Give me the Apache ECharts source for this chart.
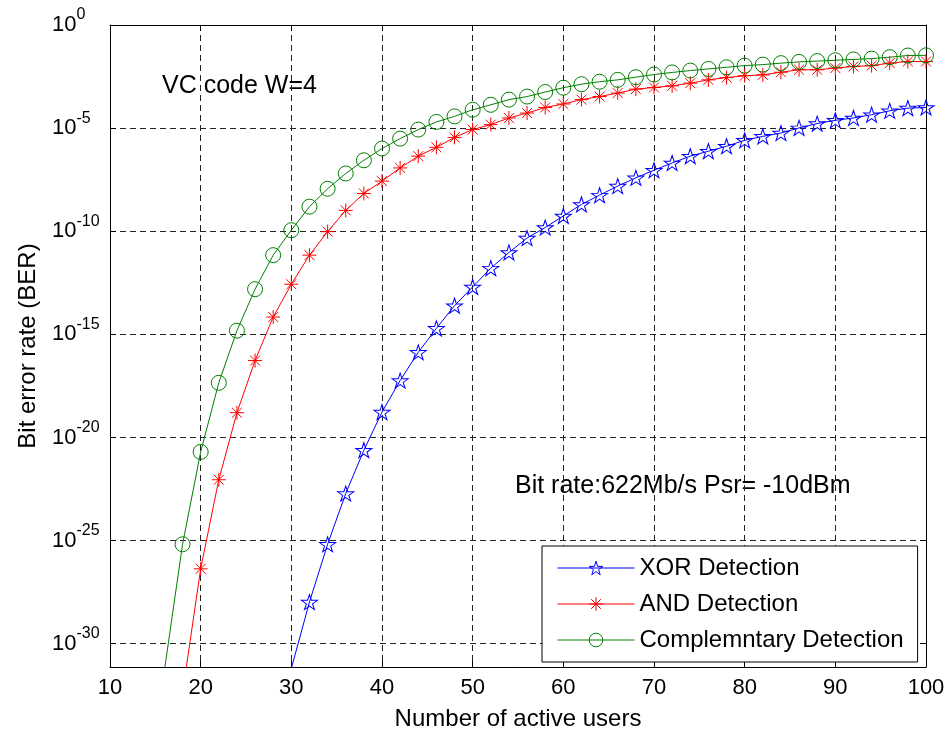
<!DOCTYPE html>
<html>
<head>
<meta charset="utf-8">
<script src="https://cdn.jsdelivr.net/npm/echarts@6/dist/echarts.min.js"></script>
<style>
html,body{margin:0;padding:0;background:#fff;}
#chart{width:949px;height:736px;}
</style>
</head>
<body>
<div id="chart"></div>
<script>
// Number of active users (x values of the markers)
const users = [16,18,20,22,24,26,28,30,32,34,36,38,40,42,44,46,48,50,52,54,56,58,60,62,64,66,68,70,72,74,76,78,80,82,84,86,88,90,92,94,96,98,100];

// BER values as exponents of ten (log10 BER); null = no point
const xorExp = [null,null,null,null,null,null,null,
  -31.2,-27.98,-25.18,-22.72,-20.62,-18.77,-17.24,-15.87,-14.71,-13.61,-12.70,-11.79,-11.03,-10.33,-9.82,-9.26,-8.70,-8.25,-7.81,-7.41,-7.04,-6.69,-6.36,-6.12,-5.88,-5.59,-5.40,-5.24,-4.99,-4.78,-4.62,-4.51,-4.35,-4.16,-4.03,-4.00];
const andExp = [null,
  -32.4,-26.37,-22.05,-18.80,-16.27,-14.16,-12.57,-11.16,-10.02,-8.99,-8.17,-7.57,-6.93,-6.36,-5.93,-5.45,-5.07,-4.83,-4.51,-4.27,-4.00,-3.83,-3.62,-3.47,-3.30,-3.11,-3.03,-2.95,-2.82,-2.66,-2.55,-2.46,-2.42,-2.29,-2.17,-2.17,-2.09,-2.01,-1.97,-1.85,-1.77,-1.77];
const compExp = [
  -31.3,-25.18,-20.70,-17.35,-14.82,-12.81,-11.16,-9.95,-8.81,-7.94,-7.20,-6.56,-5.99,-5.51,-5.07,-4.70,-4.43,-4.11,-3.87,-3.62,-3.47,-3.25,-3.04,-2.87,-2.75,-2.66,-2.53,-2.40,-2.30,-2.21,-2.13,-2.05,-1.97,-1.92,-1.85,-1.79,-1.75,-1.71,-1.67,-1.63,-1.56,-1.48,-1.47];

// Tick labels
const xTicks = [10,20,30,40,50,60,70,80,90,100];
const yTickExp = [0,-5,-10,-15,-20,-25,-30];

const seriesNames = ['XOR Detection','AND Detection','Complemntary Detection'];
const noteTexts = ['VC code W=4','Bit rate:622Mb/s Psr= -10dBm'];
const axisNames = ['Number of active users','Bit error rate (BER)'];

const FONT = "'Liberation Sans', Arial, Helvetica, sans-serif";

// decades below 1 (plotted on an inverted linear axis = log scale of BER)
function toPoints(exps) {
  const out = [];
  for (let i = 0; i < users.length; i++) {
    if (exps[i] !== null) out.push([users[i], -exps[i]]);
  }
  return out;
}

const starPath = 'path://M0,-10L2.245,-3.09L9.511,-3.09L3.633,1.18L5.878,8.09L0,3.82L-5.878,8.09L-3.633,1.18L-9.511,-3.09L-2.245,-3.09Z';
const asteriskPath = 'path://M0,-10L0,10M-10,0L10,0M-7.07,-7.07L7.07,7.07M-7.07,7.07L7.07,-7.07';

const chart = echarts.init(document.getElementById('chart'), null, {renderer: 'canvas'});

const yLabelFormatter = function (v) {
  const e = Math.round(-v);
  if (Math.abs(-v - e) > 1e-6 || yTickExp.indexOf(e) < 0) return '';
  return '{b|10}{s|' + (e === 0 ? '0' : String(e)) + '}';
};
const xLabelFormatter = function (v) {
  return xTicks.indexOf(v) >= 0 ? String(v) : '';
};

const gridLine = {show: true, lineStyle: {color: '#222', width: 1, type: [6, 4]}};
const axisLineStyle = {show: true, onZero: false, lineStyle: {color: '#000', width: 1}};
const tickStyle = {show: true, inside: true, length: 6, lineStyle: {color: '#000', width: 1}};

const option = {
  animation: false,
  backgroundColor: '#fff',
  textStyle: {fontFamily: FONT, color: '#000'},
  grid: {left: 110, right: 23, top: 25, bottom: 67, containLabel: false},
  xAxis: [{
    type: 'value', min: 10, max: 100, interval: 10, position: 'bottom',
    name: axisNames[0], nameLocation: 'middle', nameGap: 40,
    nameTextStyle: {fontSize: 24, color: '#000', fontFamily: FONT},
    axisLine: axisLineStyle, axisTick: tickStyle,
    axisLabel: {show: true, fontSize: 22, color: '#000', margin: 10, fontFamily: FONT, formatter: xLabelFormatter},
    splitLine: gridLine
  }, {
    type: 'value', min: 10, max: 100, interval: 10, position: 'top',
    axisLine: axisLineStyle, axisTick: tickStyle,
    axisLabel: {show: false}, splitLine: {show: false}
  }],
  yAxis: [{
    type: 'value', min: 0, max: 31.13, interval: 5, inverse: true, position: 'left',
    name: axisNames[1], nameLocation: 'middle', nameGap: 70, nameRotate: 90,
    nameTextStyle: {fontSize: 24, color: '#000', fontFamily: FONT},
    axisLine: axisLineStyle, axisTick: tickStyle,
    axisLabel: {
      show: true, align: 'left', margin: 58, formatter: yLabelFormatter,
      rich: {
        b: {fontSize: 22, lineHeight: 36, color: '#000', fontFamily: FONT},
        s: {fontSize: 16, lineHeight: 14, verticalAlign: 'top', color: '#000', fontFamily: FONT}
      }
    },
    splitLine: gridLine
  }, {
    type: 'value', min: 0, max: 31.13, interval: 5, inverse: true, position: 'right',
    axisLine: axisLineStyle, axisTick: tickStyle,
    axisLabel: {show: false}, splitLine: {show: false}
  }],
  legend: {
    show: true, orient: 'vertical', left: 542, top: 546,
    padding: [10, 14, 10, 15], itemGap: 12, itemWidth: 77, itemHeight: 17,
    backgroundColor: '#fff', borderColor: '#000', borderWidth: 1, borderRadius: 0,
    textStyle: {fontSize: 24, color: '#000', fontFamily: FONT},
    itemStyle: {borderWidth: 1},
    lineStyle: {width: 1},
    data: seriesNames
  },
  graphic: [
    {type: 'text', x: 162, y: 86, silent: true, style: {text: noteTexts[0], font: '25px ' + FONT, fill: '#000', align: 'left', verticalAlign: 'middle'}},
    {type: 'text', x: 515, y: 486, silent: true, style: {text: noteTexts[1], font: '25px ' + FONT, fill: '#000', align: 'left', verticalAlign: 'middle'}}
  ],
  series: [{
    name: seriesNames[0], type: 'line', data: toPoints(xorExp),
    xAxisIndex: 0, yAxisIndex: 0, clip: true,
    symbol: starPath, symbolSize: [16, 15],
    lineStyle: {color: '#0000ff', width: 1},
    itemStyle: {color: 'rgba(0,0,0,0)', borderColor: '#0000ff', borderWidth: 1}
  }, {
    name: seriesNames[1], type: 'line', data: toPoints(andExp),
    xAxisIndex: 0, yAxisIndex: 0, clip: true,
    symbol: asteriskPath, symbolSize: 14,
    lineStyle: {color: '#ff0000', width: 1},
    itemStyle: {color: 'rgba(0,0,0,0)', borderColor: '#ff0000', borderWidth: 1}
  }, {
    name: seriesNames[2], type: 'line', data: toPoints(compExp),
    xAxisIndex: 0, yAxisIndex: 0, clip: true,
    symbol: 'circle', symbolSize: 15,
    lineStyle: {color: '#008000', width: 1},
    itemStyle: {color: 'rgba(0,0,0,0)', borderColor: '#008000', borderWidth: 1}
  }]
};
chart.setOption(option);
</script>
</body>
</html>
